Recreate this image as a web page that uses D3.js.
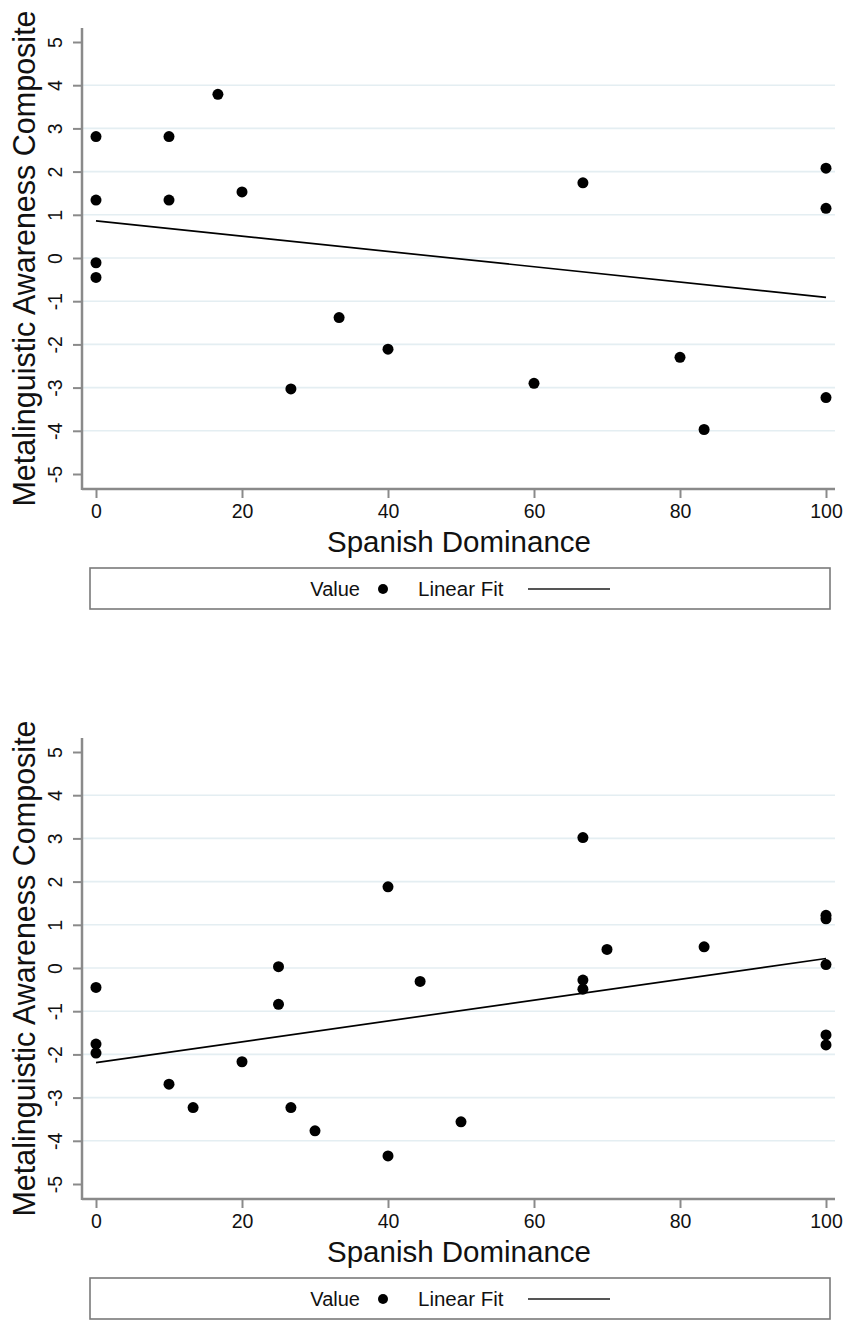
<!DOCTYPE html>
<html>
<head>
<meta charset="utf-8">
<script src="https://cdn.jsdelivr.net/npm/d3@7"></script>
<style>
  body { margin: 0; background: #fff; }
  text { font-family: "Liberation Sans", Arial, sans-serif; fill: #111; }
</style>
</head>
<body>
<script>
var xTicks = [0, 20, 40, 60, 80, 100];
var yTicks = [-5, -4, -3, -2, -1, 0, 1, 2, 3, 4, 5];
var gridTicks = [-4, -3, -2, -1, 0, 1, 2, 3, 4];

// panel 1
var topX = [0, 0, 0, 0, 10, 10, 16.7, 20, 26.7, 33.3, 40, 60, 66.7, 80, 83.3, 100, 100, 100];
var topY = [2.81, 1.34, -0.11, -0.45, 2.81, 1.34, 3.79, 1.53, -3.03, -1.38, -2.11, -2.90, 1.74, -2.30, -3.97, 2.08, 1.15, -3.23];
// panel 2
var botX = [0, 0, 0, 10, 13.3, 20, 25, 25, 26.7, 30, 40, 40, 44.4, 50, 66.7, 66.7, 66.7, 70, 83.3, 100, 100, 100, 100, 100];
var botY = [-0.45, -1.76, -1.97, -2.69, -3.23, -2.17, 0.03, -0.84, -3.23, -3.77, 1.88, -4.35, -0.31, -3.56, 3.02, -0.28, -0.49, 0.43, 0.49, 1.22, 1.14, 0.08, -1.55, -1.78];

// linear fit ends, at x = 0 and x = 100
var fitX = [0, 100];
var topFit = [0.86, -0.91];
var botFit = [-2.19, 0.22];

var width = 843;
var height = 1320;

var svg = d3.select("body")
            .append("svg")
            .attr("width", width)
            .attr("height", height);

var x = d3.scaleLinear().domain([0, 100]).range([96, 826]);
var y = d3.scaleLinear().domain([-5, 5]).range([474, 42]);

var plotLeft = 82, plotRight = 835, plotTop = 28, plotBottom = 489;
var axisColor = "#8a8a8a";

function panel(dy, xs, ys, fit) {
    var g = svg.append("g").attr("transform", "translate(0," + dy + ")");

    // grid
    g.selectAll(".grid")
     .data(gridTicks)
     .enter()
     .append("line")
     .attr("x1", plotLeft + 1)
     .attr("x2", plotRight)
     .attr("y1", function(d) { return y(d); })
     .attr("y2", function(d) { return y(d); })
     .attr("stroke", "#e4eef2")
     .attr("stroke-width", 1.6);

    // y axis
    var ya = g.append("g")
              .attr("transform", "translate(" + plotLeft + ",0)")
              .call(d3.axisLeft(y).tickValues(yTicks).tickSize(9)
                      .tickFormat(function(d) { return String(d); }));
    ya.select(".domain").remove();
    ya.selectAll(".tick line").attr("stroke", axisColor).attr("stroke-width", 2);
    ya.selectAll(".tick text")
      .attr("x", null).attr("dy", null)
      .attr("text-anchor", "middle")
      .attr("transform", "translate(-20,0) rotate(-90)")
      .style("font-size", "19.5px");

    // x axis
    var xa = g.append("g")
              .attr("transform", "translate(0," + plotBottom + ")")
              .call(d3.axisBottom(x).tickValues(xTicks).tickSize(9).tickPadding(6));
    xa.select(".domain").remove();
    xa.selectAll(".tick line").attr("stroke", axisColor).attr("stroke-width", 2);
    xa.selectAll(".tick text").style("font-size", "19.5px").attr("dy", "0.72em");

    g.append("line")
     .attr("x1", plotLeft).attr("x2", plotLeft)
     .attr("y1", plotTop).attr("y2", plotBottom + 1)
     .attr("stroke", axisColor).attr("stroke-width", 2.5);
    g.append("line")
     .attr("x1", plotLeft).attr("x2", plotRight)
     .attr("y1", plotBottom).attr("y2", plotBottom)
     .attr("stroke", axisColor).attr("stroke-width", 2.5);

    // titles
    g.append("text")
     .text("Metalinguistic Awareness Composite")
     .attr("text-anchor", "middle")
     .attr("transform", "translate(35," + (plotTop + plotBottom) / 2 + ") rotate(-90)")
     .style("font-size", "30.5px");
    g.append("text")
     .text("Spanish Dominance")
     .attr("text-anchor", "middle")
     .attr("x", 459)
     .attr("y", 552)
     .style("font-size", "29.5px");

    // points
    g.selectAll("circle.pt")
     .data(xs)
     .enter()
     .append("circle")
     .attr("class", "pt")
     .attr("cx", function(d) { return x(d); })
     .attr("cy", function(d, i) { return y(ys[i]); })
     .attr("r", 5.5)
     .attr("fill", "#000");

    // fit
    var line = d3.line()
                 .x(function(d) { return x(d); })
                 .y(function(d, i) { return y(fit[i]); });
    g.append("path")
     .datum(fitX)
     .attr("d", line)
     .attr("fill", "none")
     .attr("stroke", "#000")
     .attr("stroke-width", 1.7);

    // legend
    var lg = g.append("g");
    lg.append("rect")
      .attr("x", 90).attr("y", 568)
      .attr("width", 740).attr("height", 41)
      .attr("fill", "#fff")
      .attr("stroke", "#7a7a7a")
      .attr("stroke-width", 1.6);
    lg.append("text")
      .text("Value")
      .attr("x", 360).attr("y", 596)
      .attr("text-anchor", "end")
      .style("font-size", "20px");
    lg.append("circle")
      .attr("cx", 383).attr("cy", 589)
      .attr("r", 5)
      .attr("fill", "#000");
    lg.append("text")
      .text("Linear Fit")
      .attr("x", 418).attr("y", 596)
      .style("font-size", "20.5px");
    lg.append("line")
      .attr("x1", 528).attr("x2", 610)
      .attr("y1", 589).attr("y2", 589)
      .attr("stroke", "#555")
      .attr("stroke-width", 2);
}

panel(0, topX, topY, topFit);
panel(710, botX, botY, botFit);
</script>
</body>
</html>
